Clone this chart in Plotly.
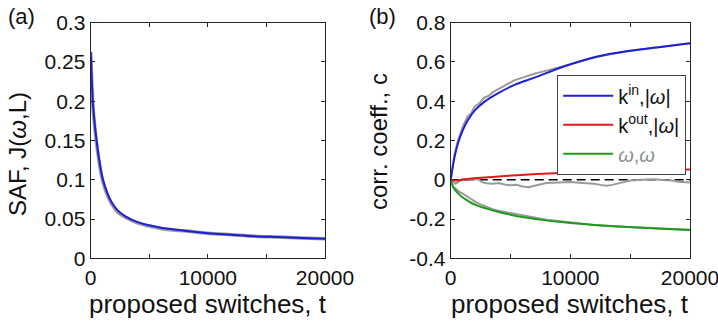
import plotly.graph_objects as go

# ---------------- data ----------------
# Panel (a): SAF J(w,L) vs proposed switches
t_a = [0, 100, 200, 350, 500, 700, 1000, 1400, 1800, 2300, 3000, 4000, 5000,
       6000, 7000, 8000, 10000, 12000, 14000, 16000, 18000, 20000]
saf_model = [0.263, 0.225, 0.195, 0.170, 0.150, 0.128, 0.103, 0.084, 0.071, 0.061,
             0.053, 0.046, 0.042, 0.039, 0.037, 0.035, 0.032, 0.030, 0.028, 0.027,
             0.026, 0.025]
saf_sim = [0.262, 0.222, 0.192, 0.167, 0.147, 0.125, 0.100, 0.081, 0.069, 0.059,
           0.052, 0.045, 0.041, 0.038, 0.036, 0.035, 0.032, 0.030, 0.028, 0.027,
           0.026, 0.025]

# Panel (b): correlation coefficients
t_kin = [0, 330, 610, 1025, 1440, 2000, 2830, 3940, 5330, 7000, 9400, 12200, 15000,
         17700, 20000]
kin_model = [0, 0.118, 0.186, 0.254, 0.304, 0.352, 0.398, 0.440, 0.483, 0.520,
             0.576, 0.627, 0.657, 0.678, 0.695]

t_kin_sim = [0, 300, 600, 1000, 1400, 1700, 2000, 2400, 2800, 3200, 3500, 4000, 4300,
             4600, 5000, 5300, 6000, 6500, 7000, 8000, 9400, 12200, 15000, 17700, 20000]
kin_sim = [0, 0.125, 0.200, 0.270, 0.322, 0.338, 0.372, 0.390, 0.418, 0.428, 0.445,
           0.462, 0.470, 0.482, 0.492, 0.506, 0.520, 0.532, 0.540, 0.556, 0.578,
           0.627, 0.657, 0.678, 0.695]

t_kout = [0, 300, 700, 1400, 2500, 4000, 5500, 7200, 10000, 13000, 16000, 20000]
kout_model = [0, -0.004, -0.003, 0.004, 0.010, 0.017, 0.023, 0.029, 0.036, 0.042,
              0.047, 0.052]

t_kout_sim = [0, 200, 400, 700, 1000, 1400, 1800, 2300, 2600, 3000, 3500, 4000, 4500,
              5000, 5500, 6000, 6500, 7000, 7500, 8000, 9000, 10000, 11000, 12000,
              12500, 13000, 13500, 14000, 14500, 15000, 16000, 17000, 18000, 18500,
              19000, 19500, 20000]
kout_sim = [0, -0.010, -0.020, -0.008, 0.005, 0.003, 0.000, 0.004, -0.012, -0.018,
            -0.020, -0.016, -0.024, -0.028, -0.026, -0.034, -0.038, -0.030, -0.022,
            -0.016, -0.014, -0.012, -0.016, -0.020, -0.026, -0.030, -0.026, -0.018,
            -0.010, -0.004, 0.000, 0.002, -0.002, -0.004, -0.010, -0.012, -0.014]

t_ww = [0, 150, 350, 600, 900, 1200, 1700, 2300, 3000, 4000, 5000, 6000, 7500, 9000,
        10000, 12000, 14000, 16000, 18000, 20000]
ww_model = [0, -0.030, -0.050, -0.068, -0.085, -0.098, -0.117, -0.133, -0.147, -0.164,
            -0.178, -0.190, -0.203, -0.214, -0.220, -0.230, -0.238, -0.245, -0.251,
            -0.256]

t_ww_sim = [0, 200, 400, 700, 1000, 1300, 1600, 2000, 2500, 3000, 3500, 4000, 5000,
            6000, 7000, 8000, 9000, 10000, 11000, 12000, 14000, 16000, 18000, 20000]
ww_sim = [0, -0.035, -0.045, -0.060, -0.070, -0.082, -0.095, -0.110, -0.125, -0.138,
          -0.150, -0.158, -0.170, -0.182, -0.193, -0.203, -0.210, -0.217, -0.224,
          -0.230, -0.238, -0.244, -0.250, -0.254]

t_zero = [0, 20000]
zero_line = [0, 0]

x_ticks = [0, 10000, 20000]
x_ticktext = ["0", "10000", "20000"]
x_minor_step = 5000
ya_ticks = [0, 0.05, 0.1, 0.15, 0.2, 0.25, 0.3]
ya_ticktext = ["0", "0.05", "0.1", "0.15", "0.2", "0.25", "0.3"]
yb_ticks = [-0.4, -0.2, 0, 0.2, 0.4, 0.6, 0.8]
yb_ticktext = ["-0.4", "-0.2", "0", "0.2", "0.4", "0.6", "0.8"]

names = ["k<sup>in</sup>,|<i>ω</i>|", "k<sup>out</sup>,|<i>ω</i>|",
         "<span style='color:#8c948c'><i>ω</i>,<i>ω</i></span>"]

# ---------------- figure ----------------
W, H = 718, 324
FONT = "Liberation Sans, Arial, Helvetica, sans-serif"
BLUE, RED, GREEN, GRAY = "#1f1fd6", "#e01b1b", "#1f9a1f", "#9a9a9a"

fig = go.Figure()

# panel a
fig.add_trace(go.Scatter(x=t_a, y=saf_sim, mode="lines", line=dict(color=GRAY, width=3.5, shape="spline"),
                         showlegend=False, xaxis="x", yaxis="y"))
fig.add_trace(go.Scatter(x=t_a, y=saf_model, mode="lines", line=dict(color=BLUE, width=2, shape="spline"),
                         showlegend=False, xaxis="x", yaxis="y"))

# panel b
fig.add_trace(go.Scatter(x=t_zero, y=zero_line, mode="lines",
                         line=dict(color="black", width=1.5, dash="9px,5px"),
                         showlegend=False, xaxis="x2", yaxis="y2"))
fig.add_trace(go.Scatter(x=t_kin_sim, y=kin_sim, mode="lines", line=dict(color=GRAY, width=2),
                         showlegend=False, xaxis="x2", yaxis="y2"))
fig.add_trace(go.Scatter(x=t_kout_sim, y=kout_sim, mode="lines", line=dict(color=GRAY, width=2),
                         showlegend=False, xaxis="x2", yaxis="y2"))
fig.add_trace(go.Scatter(x=t_ww_sim, y=ww_sim, mode="lines", line=dict(color=GRAY, width=2),
                         showlegend=False, xaxis="x2", yaxis="y2"))
fig.add_trace(go.Scatter(x=t_kin, y=kin_model, mode="lines", name=names[0],
                         line=dict(color=BLUE, width=2, shape="spline"), xaxis="x2", yaxis="y2"))
fig.add_trace(go.Scatter(x=t_kout, y=kout_model, mode="lines", name=names[1],
                         line=dict(color=RED, width=2, shape="spline"), xaxis="x2", yaxis="y2"))
fig.add_trace(go.Scatter(x=t_ww, y=ww_model, mode="lines", name=names[2],
                         line=dict(color=GREEN, width=2, shape="spline"), xaxis="x2", yaxis="y2"))

ax_common = dict(showline=True, linecolor="#262626", linewidth=1.2, mirror="ticks",
                 ticks="inside", ticklen=4, tickcolor="#262626", tickwidth=1,
                 showgrid=False, zeroline=False, automargin=False,
                 ticklabeloverflow="allow",
                 tickfont=dict(size=21, color="#111", family=FONT))
x_minor = dict(dtick=x_minor_step, ticks="inside", ticklen=4, tickcolor="#262626",
               tickwidth=1, showgrid=False)

ya_dom = [1 - 258.3 / H, 1 - 22.7 / H]
fig.update_layout(
    width=W, height=H, margin=dict(l=0, r=0, t=0, b=0, autoexpand=False),
    paper_bgcolor="white", plot_bgcolor="white",
    font=dict(family=FONT, color="#111"),
    xaxis=dict(domain=[90.7 / W, 325 / W], range=[0, 20000], tickvals=x_ticks,
               ticktext=x_ticktext, minor=x_minor, anchor="y", **ax_common),
    yaxis=dict(domain=ya_dom, range=[0, 0.3], tickvals=ya_ticks, ticktext=ya_ticktext,
               anchor="x", **ax_common),
    xaxis2=dict(domain=[450.7 / W, 690 / W], range=[0, 20000], tickvals=x_ticks,
                ticktext=x_ticktext, minor=x_minor, anchor="y2", **ax_common),
    yaxis2=dict(domain=ya_dom, range=[-0.4, 0.8], tickvals=yb_ticks, ticktext=yb_ticktext,
                anchor="x2", **ax_common),
    legend=dict(x=557 / W, y=1 - 75 / H, xanchor="left", yanchor="top",
                bgcolor="white", bordercolor="#444", borderwidth=1.2, itemwidth=50,
                font=dict(size=20, family=FONT, color="#111"), tracegroupgap=0),
    showlegend=True,
)

ann = []
ann.append(dict(text="SAF, J(<i>ω</i>,L)", x=17 / W, y=1 - 154 / H, xref="paper", yref="paper",
                textangle=-90, showarrow=False, font=dict(size=24, family=FONT, color="#111"),
                xanchor="center", yanchor="middle"))
ann.append(dict(text="corr. coeff., c", x=379 / W, y=1 - 142 / H, xref="paper", yref="paper",
                textangle=-90, showarrow=False, font=dict(size=24, family=FONT, color="#111"),
                xanchor="center", yanchor="middle"))
ann.append(dict(text="proposed switches, t", x=208 / W, y=1 - 304 / H, xref="paper", yref="paper",
                showarrow=False, font=dict(size=26, family=FONT, color="#111"),
                xanchor="center", yanchor="middle"))
ann.append(dict(text="proposed switches, t", x=570 / W, y=1 - 304 / H, xref="paper", yref="paper",
                showarrow=False, font=dict(size=26, family=FONT, color="#111"),
                xanchor="center", yanchor="middle"))
ann.append(dict(text="(a)", x=21 / W, y=1 - 16 / H, xref="paper", yref="paper",
                showarrow=False, font=dict(size=22, family=FONT, color="#111"),
                xanchor="center", yanchor="middle"))
ann.append(dict(text="(b)", x=382 / W, y=1 - 16 / H, xref="paper", yref="paper",
                showarrow=False, font=dict(size=22, family=FONT, color="#111"),
                xanchor="center", yanchor="middle"))
fig.update_layout(annotations=ann)

fig.write_html("out.html")
